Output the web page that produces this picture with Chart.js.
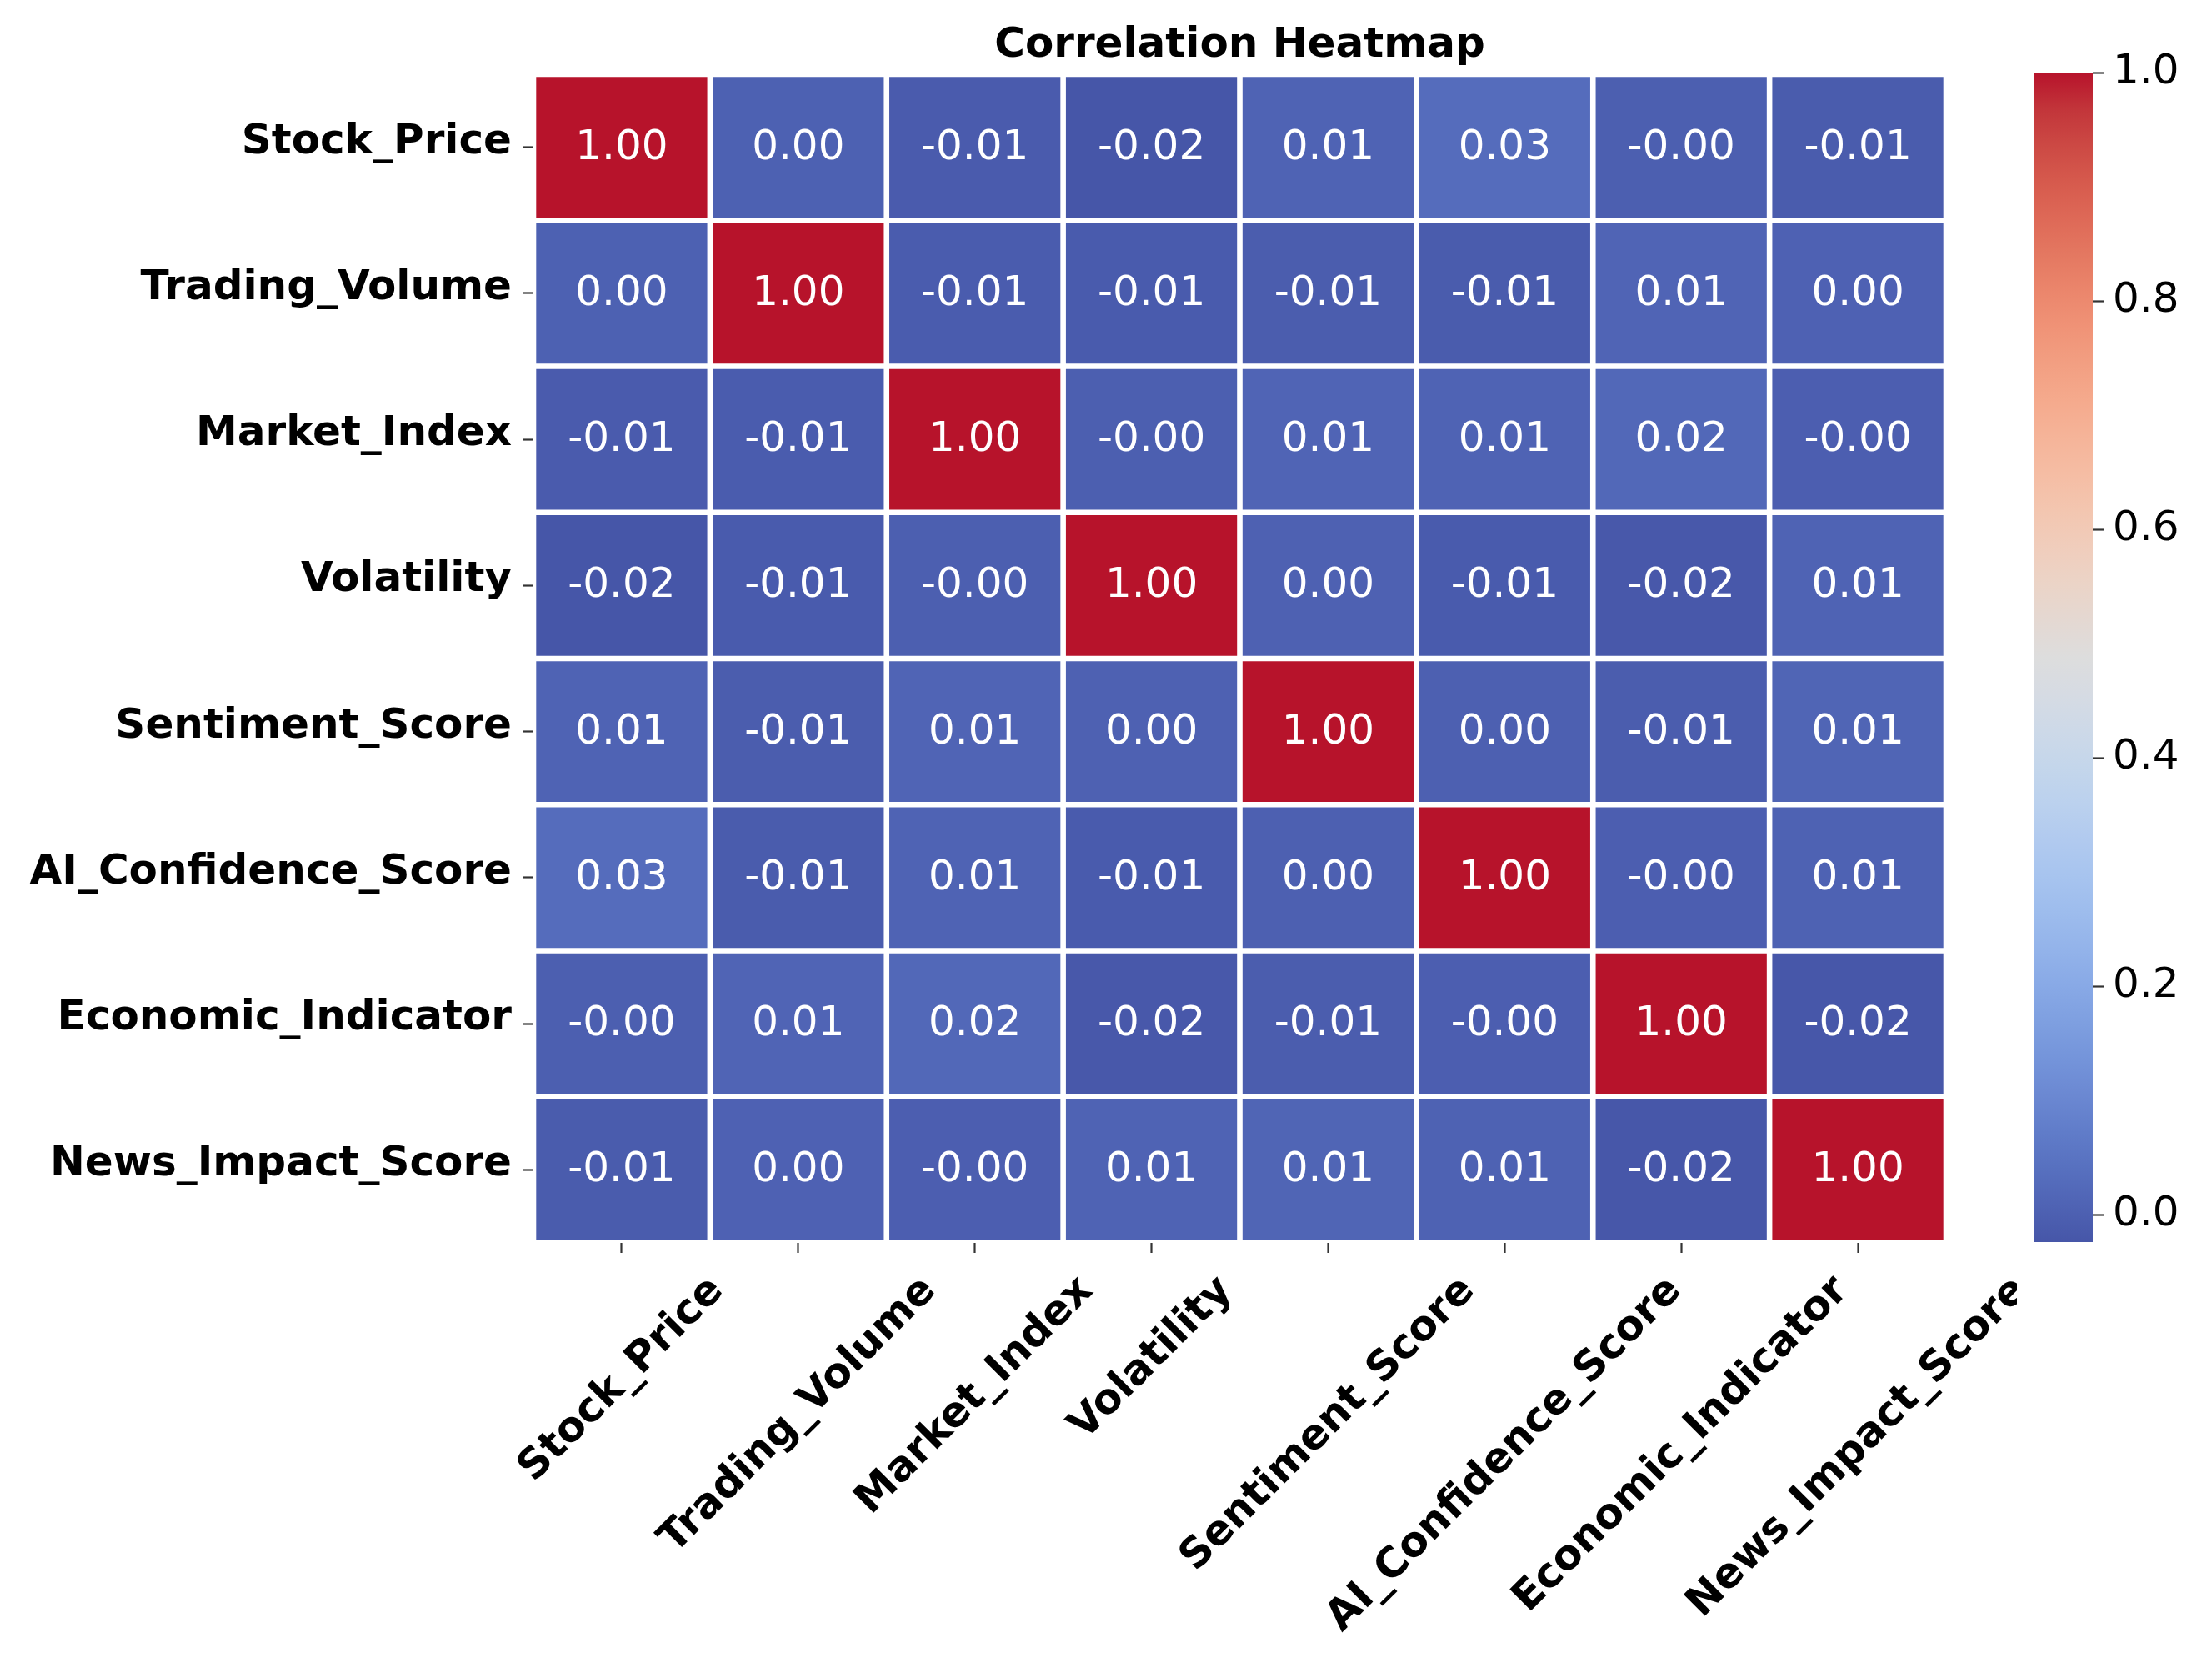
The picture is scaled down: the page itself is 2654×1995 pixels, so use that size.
<!DOCTYPE html>
<html>
<head>
<meta charset="utf-8">
<script src="https://cdn.jsdelivr.net/npm/chart.js@4.4.1/dist/chart.umd.min.js"></script>
<style>
  html, body { margin: 0; padding: 0; background: #ffffff; width: 2654px; height: 1995px; overflow: hidden; }
  #heat { position: absolute; left: 0; top: 0; }
  #cbar { position: absolute; left: 2400px; top: 0; }
</style>
</head>
<body>
<canvas id="heat" width="2420" height="1995" style="width:2420px;height:1995px"></canvas>
<canvas id="cbar" width="254" height="1995" style="width:254px;height:1995px"></canvas>
<script>
// ---------------- DATA ----------------
const chartTitle = 'Correlation Heatmap';
const variables = ['Stock_Price', 'Trading_Volume', 'Market_Index', 'Volatility',
                   'Sentiment_Score', 'AI_Confidence_Score', 'Economic_Indicator', 'News_Impact_Score'];

const stockPrice        = [ 1.000,  0.002, -0.011, -0.024,  0.008,  0.031, -0.003, -0.010];
const tradingVolume     = [ 0.002,  1.000, -0.009, -0.012, -0.007, -0.010,  0.011,  0.004];
const marketIndex       = [-0.011, -0.009,  1.000, -0.002,  0.010,  0.009,  0.021, -0.004];
const volatility        = [-0.024, -0.012, -0.002,  1.000,  0.003, -0.012, -0.018,  0.007];
const sentimentScore    = [ 0.008, -0.007,  0.010,  0.003,  1.000,  0.001, -0.008,  0.012];
const aiConfidenceScore = [ 0.031, -0.010,  0.009, -0.012,  0.001,  1.000, -0.004,  0.006];
const economicIndicator = [-0.003,  0.011,  0.021, -0.018, -0.008, -0.004,  1.000, -0.021];
const newsImpactScore   = [-0.010,  0.004, -0.004,  0.007,  0.012,  0.006, -0.021,  1.000];

const corrRows = [stockPrice, tradingVolume, marketIndex, volatility,
                  sentimentScore, aiConfidenceScore, economicIndicator, newsImpactScore];

const colorbarTicks = [0.0, 0.2, 0.4, 0.6, 0.8, 1.0];

// ---------------- COLORMAP (coolwarm, toned like the reference) ----------------
const coolwarmBase = [
  [59,76,192],[68,90,204],[77,104,215],[87,117,225],[98,130,234],[108,142,241],[119,154,247],
  [130,165,251],[141,176,254],[152,185,255],[163,194,255],[174,201,253],[184,208,249],
  [194,213,244],[204,217,238],[213,219,230],[221,221,221],[229,216,209],[236,211,197],
  [241,204,185],[245,196,173],[247,187,160],[247,177,148],[247,166,135],[244,154,123],
  [241,141,111],[236,127,99],[229,112,88],[222,96,77],[213,80,66],[203,62,56],[192,40,47],[180,4,38]
];
const coolwarm = coolwarmBase.map(c => {
  const m = c.map(v => v * 0.93 + 0.07 * 221);
  m[2] = m[2] - 0.24 * Math.max(0, m[2] - m[1]);
  return m.map(v => Math.round(Math.max(0, Math.min(255, v))));
});
function cmap(t) {
  t = Math.max(0, Math.min(1, t));
  const f = t * (coolwarm.length - 1);
  const i = Math.min(Math.floor(f), coolwarm.length - 2);
  const w = f - i;
  const a = coolwarm[i], b = coolwarm[i + 1];
  const c = a.map((v, k) => Math.round(v + (b[k] - v) * w));
  return `rgb(${c[0]},${c[1]},${c[2]})`;
}
const allVals = corrRows.flat();
const vmin = Math.min(...allVals);
const vmax = Math.max(...allVals);
const norm = v => (v - vmin) / (vmax - vmin);

const FONT = '"DejaVu Sans", "Noto Sans", sans-serif';
const FS = 50;

// ---------------- HEATMAP ----------------
const cellSpan = 1;
const datasets = corrRows.map((row, r) => ({
  label: variables[r],
  data: row.map(() => cellSpan),
  corr: row,
  backgroundColor: row.map(v => cmap(norm(v))),
  borderColor: '#ffffff',
  borderWidth: 3.3,
  borderSkipped: false,
  barPercentage: 1,
  categoryPercentage: 1,
  inflateAmount: 0
}));

const heatPlugin = {
  id: 'heatExtras',
  afterDatasetsDraw(chart) {
    const ctx = chart.ctx;
    ctx.save();
    ctx.fillStyle = '#ffffff';
    ctx.font = `${FS}px ${FONT}`;
    ctx.textAlign = 'center';
    ctx.textBaseline = 'alphabetic';
    chart.data.datasets.forEach((ds, r) => {
      const meta = chart.getDatasetMeta(r);
      meta.data.forEach((el, c) => {
        const p = el.getProps(['x', 'y', 'base'], true);
        const cy = (p.y + p.base) / 2;
        ctx.fillText(ds.corr[c].toFixed(2), p.x, cy + 14);
      });
    });
    ctx.restore();
  },
  afterDraw(chart) {
    const ctx = chart.ctx;
    const area = chart.chartArea;
    ctx.save();
    // title
    ctx.fillStyle = '#000000';
    ctx.font = `bold ${FS}px ${FONT}`;
    ctx.textAlign = 'center';
    ctx.textBaseline = 'alphabetic';
    ctx.fillText(chartTitle, (area.left + area.right) / 2, 68);
    // rotated x labels, bbox centred on tick
    const xs = chart.scales.x;
    const asc = 0.76 * FS, desc = 0.236 * FS, H = asc + desc;
    const top = area.bottom + 32;
    const s = Math.SQRT1_2;
    variables.forEach((lab, i) => {
      const L = ctx.measureText(lab).width;
      const cx = xs.getPixelForTick(i);
      const cy = top + (L + H) * s / 2;
      ctx.save();
      ctx.translate(cx, cy);
      ctx.rotate(-Math.PI / 4);
      ctx.fillText(lab, 0, (asc - desc) / 2);
      ctx.restore();
    });
    ctx.restore();
  }
};

new Chart(document.getElementById('heat'), {
  type: 'bar',
  data: { labels: variables, datasets },
  options: {
    responsive: false,
    animation: false,
    layout: { padding: { left: 0, top: 89, right: 85, bottom: 492 } },
    plugins: { legend: { display: false }, tooltip: { enabled: false }, title: { display: false } },
    scales: {
      x: {
        type: 'category',
        stacked: true,
        offset: true,
        border: { display: false },
        grid: { display: true, offset: false, drawOnChartArea: false, drawTicks: true,
                tickLength: 12, tickColor: '#333333', tickWidth: 2.2 },
        ticks: { display: false },
        afterFit(scale) { scale.height = 12; }
      },
      y: {
        type: 'linear',
        stacked: true,
        reverse: true,
        min: 0,
        max: variables.length,
        border: { display: false },
        grid: { display: true, drawOnChartArea: false, drawTicks: true,
                tickLength: 12, tickColor: '#333333', tickWidth: 2.2 },
        afterBuildTicks(scale) {
          scale.ticks = variables.map((_, i) => ({ value: i + 0.5 }));
        },
        ticks: {
          autoSkip: false,
          padding: 14,
          labelOffset: -6,
          color: '#000000',
          font: { family: FONT, size: FS, weight: 'bold' },
          callback: (v, i) => variables[i]
        },
        afterFit(scale) { scale.width = 640; }
      }
    }
  },
  plugins: [heatPlugin]
});

// ---------------- COLORBAR ----------------
new Chart(document.getElementById('cbar'), {
  type: 'bar',
  data: {
    labels: ['colorbar'],
    datasets: [{
      data: [[vmin, vmax]],
      borderWidth: 0,
      barPercentage: 1,
      categoryPercentage: 1,
      inflateAmount: 0,
      backgroundColor(ctx) {
        const chart = ctx.chart;
        const ys = chart.scales.y;
        if (!chart.chartArea || !ys) return cmap(0.5);
        const g = chart.ctx.createLinearGradient(0, ys.getPixelForValue(vmin), 0, ys.getPixelForValue(vmax));
        coolwarm.forEach((c, k) => g.addColorStop(k / (coolwarm.length - 1), `rgb(${c[0]},${c[1]},${c[2]})`));
        return g;
      }
    }]
  },
  options: {
    responsive: false,
    animation: false,
    layout: { padding: { left: 40, top: 87, right: 0, bottom: 505 } },
    plugins: { legend: { display: false }, tooltip: { enabled: false } },
    scales: {
      x: { display: false },
      y: {
        type: 'linear',
        position: 'right',
        min: vmin,
        max: vmax,
        border: { display: false },
        grid: { display: true, drawOnChartArea: false, drawTicks: true,
                tickLength: 13, tickColor: '#333333', tickWidth: 2.2 },
        afterBuildTicks(scale) {
          scale.ticks = colorbarTicks.map(v => ({ value: v }));
        },
        ticks: {
          autoSkip: false,
          padding: 11,
          color: '#000000',
          font: { family: FONT, size: FS },
          callback: v => Number(v).toFixed(1)
        },
        afterFit(scale) { scale.width = 143; }
      }
    }
  }
});
</script>
</body>
</html>
